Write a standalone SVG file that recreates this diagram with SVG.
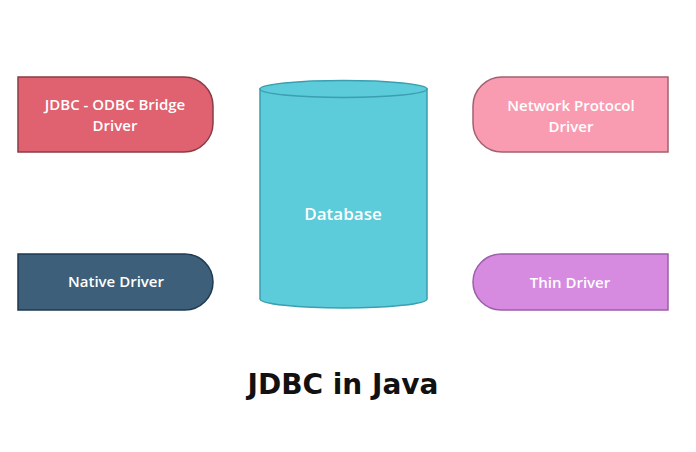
<svg xmlns="http://www.w3.org/2000/svg" width="696" height="452" viewBox="0 0 696 452">
<style>
.lbl{font-family:"Open Sans","Noto Sans",sans-serif;font-size:15px;font-weight:600;fill:#ffffff;text-anchor:middle}
.title{font-family:"DejaVu Sans",sans-serif;font-size:28px;font-weight:bold;fill:#111111;text-anchor:middle}
</style>
<rect width="696" height="452" fill="#ffffff"/>
<g id="jdbc-odbc">
<path d="M18,77 H184 A29,29 0 0 1 213,106 V123 A29,29 0 0 1 184,152 H18 Z" fill="#e0616f" stroke="#8b3b46" stroke-width="1.5"/>
<text class="lbl" x="115" y="110">JDBC - ODBC Bridge</text>
<text class="lbl" x="115" y="131">Driver</text>
</g>
<g id="network">
<path d="M668,77 H502 A29,29 0 0 0 473,106 V123 A29,29 0 0 0 502,152 H668 Z" fill="#f99cb1" stroke="#a2606f" stroke-width="1.5"/>
<text class="lbl" x="571" y="111">Network Protocol</text>
<text class="lbl" x="571" y="132">Driver</text>
</g>
<g id="native">
<path d="M18,254 H185 A28,28 0 0 1 213,282 A28,28 0 0 1 185,310 H18 Z" fill="#3d5f79" stroke="#1f3a52" stroke-width="1.5"/>
<text class="lbl" x="116" y="287">Native Driver</text>
</g>
<g id="thin">
<path d="M668,254 H501 A28,28 0 0 0 473,282 A28,28 0 0 0 501,310 H668 Z" fill="#d68be1" stroke="#9b5fa9" stroke-width="1.5"/>
<text class="lbl" x="570" y="288">Thin Driver</text>
</g>
<g id="database">
<path d="M260,89 V299 A83.5,9 0 0 0 427,299 V89 Z" fill="#5ccbda" stroke="#3a9fb0" stroke-width="1.5"/>
<ellipse cx="343.5" cy="89" rx="83.5" ry="8.5" fill="#5ccbda" stroke="#3a9fb0" stroke-width="1.5"/>
<text class="lbl" x="343" y="220" style="font-size:17px">Database</text>
</g>
<g id="connectors"></g>
<text class="title" x="343" y="394">JDBC in Java</text>
</svg>
